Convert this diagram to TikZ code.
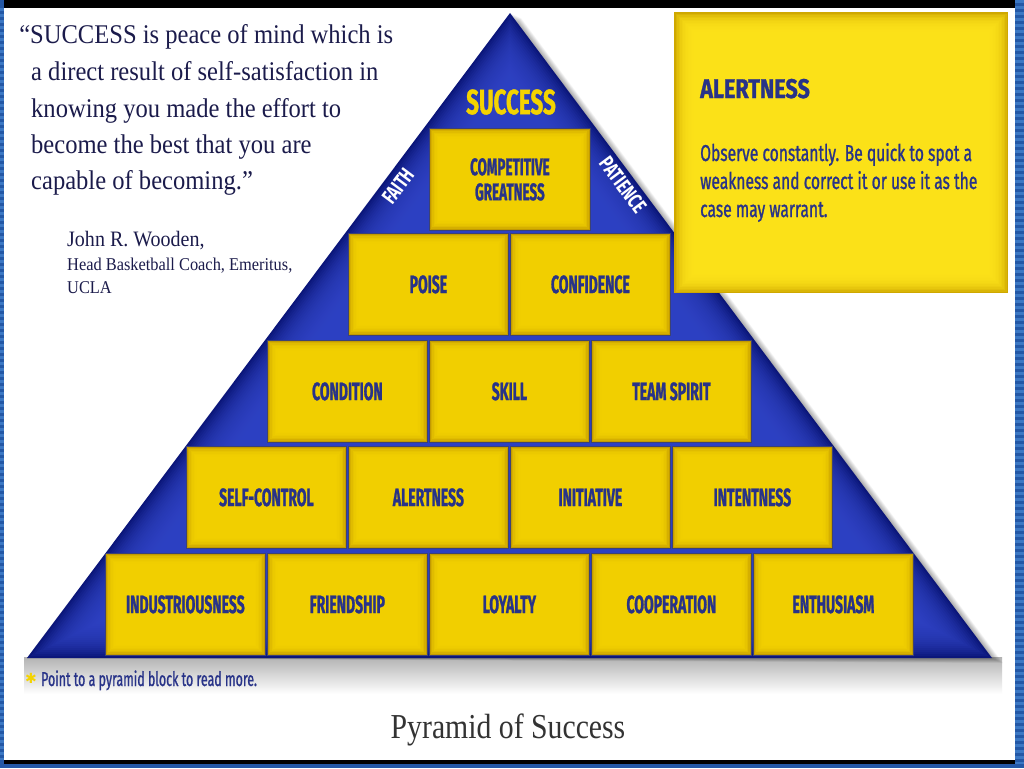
\documentclass[tikz,border=0pt]{standalone}
\usepackage{fontspec}
\usetikzlibrary{calc}
\setmainfont{Liberation Serif}
\newfontfamily\quotefont[FakeStretch=0.91]{Liberation Serif}
\newfontfamily\titlefont[FakeStretch=0.85]{Liberation Serif}
\newfontfamily\blockfont[FakeStretch=0.56,FakeBold=1]{Fira Sans}
\newfontfamily\successfont[FakeStretch=0.64,FakeBold=1]{Fira Sans}
\newfontfamily\edgefont[FakeStretch=0.72]{Fira Sans}
\newfontfamily\headfont[FakeStretch=0.8,FakeBold=1]{Fira Sans}
\newfontfamily\bodyfont[FakeStretch=0.68,FakeBold=1]{Fira Sans}
\newfontfamily\notefont[FakeStretch=0.62,FakeBold=1]{Fira Sans}
\newfontfamily\symfont{DejaVu Sans}
\definecolor{frameblue}{HTML}{2458A6}
\definecolor{framestripe}{HTML}{3C78C4}
\definecolor{pyrDark}{HTML}{0B167A}
\definecolor{pyrLight}{HTML}{3448CC}
\definecolor{yelC}{HTML}{F4D300}
\definecolor{goldEdge}{HTML}{C29A00}
\definecolor{blockedge}{HTML}{3C4275}
\definecolor{txtblue}{HTML}{283388}
\definecolor{alertC}{HTML}{FFE51C}
\definecolor{alertEdge}{HTML}{CFA800}
\definecolor{quoteblue}{HTML}{1B1B4B}
\tikzset{
  glow/.style n args={3}{path picture={
    \foreach \i in {1,...,#1}
      \fill[#2,opacity=#3] ([shift={(\i*1.5pt,\i*1.5pt)}]path picture bounding box.south west)
        rectangle ([shift={(-\i*1.5pt,-\i*1.5pt)}]path picture bounding box.north east);}},
  blk/.style={draw=blockedge, line width=0.8pt, fill=goldEdge, glow={7}{yelC}{0.38},
    minimum width=160pt, minimum height=102pt, inner sep=0pt, anchor=north west,
    font=\blockfont\bfseries\fontsize{25}{27}\selectfont, text=txtblue, align=center},
  alertbox/.style={fill=alertEdge, glow={14}{alertC}{0.22}, minimum width=334pt,
    minimum height=281pt, inner sep=0pt, anchor=north west},
  quote/.style={anchor=base west, inner sep=0pt, text=quoteblue},
  edgeword/.style={text=white, inner sep=0pt, font=\edgefont\bfseries\fontsize{21}{21}\selectfont},
}
\newcommand\pblock[4]{\node[blk] (#1) at (#2,#3) {#4};}
\begin{document}
\begin{tikzpicture}[x=1pt,y=-1pt]
\useasboundingbox (0,0) rectangle (1024,768);
\fill[white] (0,0) rectangle (1024,768);
% frame
\fill[black] (0,0) rectangle (1016,8);
\fill[black] (4,760) rectangle (1016,764);
\fill[frameblue] (0,764) rectangle (1024,768);
\fill[frameblue] (0,0) rectangle (4,768);
\fill[frameblue] (1015,0) rectangle (1024,768);
\draw[framestripe, line width=9pt, dash pattern=on 3pt off 3pt] (1019.5,0) -- (1019.5,764);
\draw[framestripe, line width=4pt, dash pattern=on 3pt off 3pt] (2,8) -- (2,760);
% pyramid geometry
\coordinate (A) at (510,13);
\coordinate (B) at (27,658);
\coordinate (C) at (992,658);
\coordinate (I) at (510,416.4);
% floor shadow
\shade[top color=black!30, bottom color=white] (24,657) rectangle (1002,694);
% right edge shadow
\foreach \i in {1,...,10}
  \fill[black,opacity=0.035] ([xshift={\i*1.1pt},yshift={-\i*0.5pt}]A) -- ([xshift={\i*1.1pt},yshift={-\i*0.5pt}]C) -- (B) -- cycle;
% pyramid body
\fill[pyrDark] (A) -- (B) -- (C) -- cycle;
\foreach \d in {2,4,...,40} {
  \pgfmathsetmacro\k{1-\d/241.6}
  \fill[pyrLight,opacity=0.12] ($(I)!\k!(A)$) -- ($(I)!\k!(B)$) -- ($(I)!\k!(C)$) -- cycle;
}
% blocks
\node[blk, minimum width=161pt, font=\blockfont\bfseries\fontsize{24}{25}\selectfont] (greatness) at (429,128) {COMPETITIVE\\GREATNESS};
\pblock{poise}{348}{233}{POISE}
\pblock{confidence}{510}{233}{CONFIDENCE}
\pblock{condition}{267}{340}{CONDITION}
\pblock{skill}{429}{340}{SKILL}
\pblock{teamspirit}{591}{340}{TEAM SPIRIT}
\pblock{selfcontrol}{186}{446}{SELF-CONTROL}
\pblock{alertness}{348}{446}{ALERTNESS}
\pblock{initiative}{510}{446}{INITIATIVE}
\pblock{intentness}{672}{446}{INTENTNESS}
\pblock{industriousness}{105}{553}{INDUSTRIOUSNESS}
\pblock{friendship}{267}{553}{FRIENDSHIP}
\pblock{loyalty}{429}{553}{LOYALTY}
\pblock{cooperation}{591}{553}{COOPERATION}
\pblock{enthusiasm}{753}{553}{ENTHUSIASM}
% top labels
\node[text=yelC, inner sep=0pt, font=\successfont\bfseries\fontsize{35}{35}\selectfont] (success) at (511,102) {SUCCESS};
\node[edgeword, rotate=53.2] (faith) at (398,186) {FAITH};
\node[edgeword, rotate=-53.2] (patience) at (623,185) {PATIENCE};
% alertness box
\node[alertbox] (alertbox) at (674,12) {};
\node[anchor=base west, inner sep=0pt, text=txtblue, font=\headfont\bfseries\fontsize{27}{27}\selectfont] (alerthead) at (700,98) {ALERTNESS};
\node[anchor=base west, inner sep=0pt, text=txtblue, font=\bodyfont\fontsize{23}{28}\selectfont] (alertl1) at (700,161) {Observe constantly. Be quick to spot a};
\node[anchor=base west, inner sep=0pt, text=txtblue, font=\bodyfont\fontsize{23}{28}\selectfont] (alertl2) at (700,189) {weakness and correct it or use it as the};
\node[anchor=base west, inner sep=0pt, text=txtblue, font=\bodyfont\fontsize{23}{28}\selectfont] (alertl3) at (700,217) {case may warrant.};
% quote
\node[quote, font=\quotefont\fontsize{27}{27}\selectfont] (q1) at (30,44) {\makebox[0pt][r]{“}SUCCESS is peace of mind which is};
\node[quote, font=\quotefont\fontsize{27}{27}\selectfont] (q2) at (31,81) {a direct result of self-satisfaction in};
\node[quote, font=\quotefont\fontsize{27}{27}\selectfont] (q3) at (31,117) {knowing you made the effort to};
\node[quote, font=\quotefont\fontsize{27}{27}\selectfont] (q4) at (31,153) {become the best that you are};
\node[quote, font=\quotefont\fontsize{27}{27}\selectfont] (q5) at (31,189) {capable of becoming.”};
\node[quote, font=\quotefont\fontsize{22}{22}\selectfont] (author) at (67,246) {John R. Wooden,};
\node[quote, font=\quotefont\fontsize{18}{18}\selectfont] (role) at (67,270) {Head Basketball Coach, Emeritus,};
\node[quote, font=\quotefont\fontsize{18}{18}\selectfont] (ucla) at (67,293) {UCLA};
% footnote
\node[inner sep=0pt, text=yelC, font=\symfont\fontsize{14}{14}\selectfont] (star) at (31,678) {✱};
\node[anchor=base west, inner sep=0pt, text=txtblue, font=\notefont\fontsize{20}{20}\selectfont] (note) at (41,686) {Point to a pyramid block to read more.};
% caption
\node[anchor=base, inner sep=0pt, text=black!80, font=\titlefont\fontsize{35}{35}\selectfont] (caption) at (508,738) {Pyramid of Success};
\end{tikzpicture}
\end{document}
